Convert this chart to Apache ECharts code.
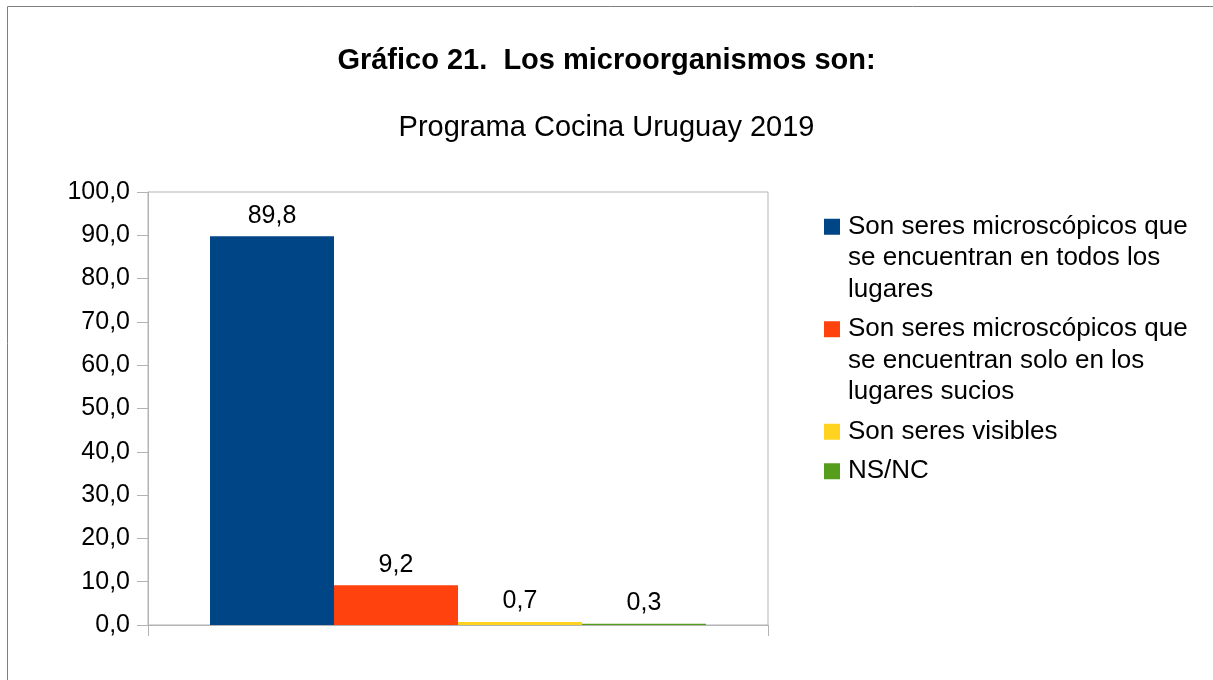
<!DOCTYPE html>
<html>
<head>
<meta charset="utf-8">
<script src="https://cdn.jsdelivr.net/npm/echarts@6/dist/echarts.min.js"></script>
<style>
  html, body { margin: 0; padding: 0; background: #ffffff; }
  #chart { width: 1213px; height: 680px; }
</style>
</head>
<body>
<div id="chart"></div>
<script>
// datos del gráfico
let categorias = [""];
let nombresSeries = [
    "Son seres microscópicos que\nse encuentran en todos los\nlugares",
    "Son seres microscópicos que\nse encuentran solo en los\nlugares sucios",
    "Son seres visibles",
    "NS/NC"
];
let valores = [89.8, 9.2, 0.7, 0.3];
let colores = ["#004586", "#ff420e", "#ffd320", "#579d1c"];
let ticksY = [0, 10, 20, 30, 40, 50, 60, 70, 80, 90, 100];

let fuente = "'Liberation Sans', Arial, sans-serif";
let gris = "#b3b3b3";

function coma(v) {
    return Number(v).toFixed(1).replace(".", ",");
}

// estilos rich para el cuadrito de la leyenda
let rich = {
    s: { width: 8 },
    ind: { width: 24 }
};
colores.forEach(function (c, i) {
    rich["m" + i] = { width: 16, height: 16, backgroundColor: c };
});

let series = nombresSeries.map(function (nombre, i) {
    return {
        name: nombre,
        type: "bar",
        data: [valores[i]],
        barGap: "0%",
        barCategoryGap: "20%",
        itemStyle: { color: colores[i] },
        label: {
            show: true,
            position: "top",
            distance: 8,
            color: "#000000",
            fontFamily: fuente,
            fontSize: 25,
            formatter: function (p) { return coma(p.value); }
        }
    };
});

let option = {
    backgroundColor: "#ffffff",
    animation: false,
    title: [
        {
            text: "Gráfico 21.  Los microorganismos son:",
            left: "center",
            top: 39,
            textStyle: { fontFamily: fuente, fontSize: 29, fontWeight: "bold", color: "#000000", lineHeight: 34 }
        },
        {
            text: "Programa Cocina Uruguay 2019",
            left: "center",
            top: 106,
            textStyle: { fontFamily: fuente, fontSize: 29, fontWeight: "normal", color: "#000000", lineHeight: 34 }
        }
    ],
    legend: {
        orient: "vertical",
        left: 814,
        top: 206,
        itemWidth: 0,
        itemHeight: 0,
        itemGap: 8,
        icon: "none",
        data: nombresSeries,
        formatter: function (name) {
            let i = nombresSeries.indexOf(name);
            let lineas = name.split("\n");
            return lineas.map(function (l, k) {
                return k === 0 ? "{m" + i + "|}{s|}" + l : "{ind|}" + l;
            }).join("\n");
        },
        textStyle: {
            fontFamily: fuente,
            fontSize: 26,
            color: "#000000",
            lineHeight: 31.5,
            rich: rich
        }
    },
    graphic: [
        {
            type: "rect",
            shape: { x: 7.5, y: 6.5, width: 1400, height: 900 },
            style: { fill: "none", stroke: "#808080", lineWidth: 1 },
            silent: true
        }
    ],
    grid: {
        left: 148,
        top: 192,
        width: 620,
        height: 433,
        show: true,
        borderColor: gris,
        borderWidth: 1
    },
    xAxis: {
        type: "category",
        data: categorias,
        axisLine: { show: true, lineStyle: { color: gris, width: 1 } },
        axisTick: { show: true, length: 11, lineStyle: { color: gris } },
        axisLabel: { show: false },
        splitLine: { show: false }
    },
    yAxis: {
        type: "value",
        min: ticksY[0],
        max: ticksY[ticksY.length - 1],
        interval: 10,
        axisLine: { show: true, lineStyle: { color: gris, width: 1 } },
        axisTick: { show: true, length: 11, lineStyle: { color: gris } },
        splitLine: { show: false },
        axisLabel: {
            margin: 18,
            color: "#000000",
            fontFamily: fuente,
            fontSize: 25,
            formatter: function (v) { return coma(v); }
        }
    },
    series: series
};

let grafico = echarts.init(document.getElementById("chart"));
grafico.setOption(option);

window.addEventListener("resize", function () {
    grafico.resize();
});
</script>
</body>
</html>
